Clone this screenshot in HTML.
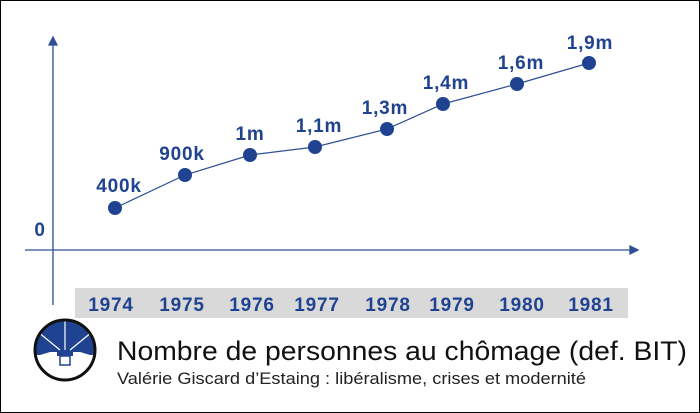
<!DOCTYPE html>
<html><head><style>
body{margin:0;background:#fff}
.w{position:relative;width:698px;height:411px;border:1px solid #000;overflow:hidden;font-family:"Liberation Sans",sans-serif}
</style></head><body><div class="w">
<svg width="700" height="413" style="position:absolute;left:-1px;top:-1px">
<rect x="75" y="288" width="553" height="30" fill="#d9d9d9"/>
<g stroke="#2e4f95" stroke-width="1.3" fill="#2e4f95">
<line x1="53" y1="305" x2="53" y2="42"/><polygon points="49,45 57,45 53,37"/>
<line x1="25" y1="250" x2="632" y2="250"/><polygon points="630,246 630,254 638,250"/>
</g>
<polyline points="115,208 185,175 250,155 315,147 387,129 443,104 517,84 589,63" fill="none" stroke="#2e4f95" stroke-width="1.2"/>
<g fill="#1f4390">
<circle cx="115" cy="208" r="7"/><circle cx="185" cy="175" r="7"/><circle cx="250" cy="155" r="7"/><circle cx="315" cy="147" r="7"/><circle cx="387" cy="129" r="7"/><circle cx="443" cy="104" r="7"/><circle cx="517" cy="84" r="7"/><circle cx="589" cy="63" r="7"/>
</g>
<g fill="#1f4390" font-weight="bold" font-size="19" text-anchor="middle" font-family="Liberation Sans,sans-serif" letter-spacing="0.8">
<text x="119" y="192">400k</text><text x="182" y="160">900k</text><text x="250" y="140">1m</text><text x="319" y="132">1,1m</text><text x="385" y="114">1,3m</text><text x="446" y="89">1,4m</text><text x="521" y="69">1,6m</text><text x="590" y="49">1,9m</text>
<text x="40" y="236">0</text>
<text x="111" y="311">1974</text><text x="182" y="311">1975</text><text x="252" y="311">1976</text><text x="317" y="311">1977</text><text x="388" y="311">1978</text><text x="452" y="311">1979</text><text x="522" y="311">1980</text><text x="591" y="311">1981</text>
</g>
<clipPath id="c"><circle cx="65" cy="350" r="30"/></clipPath>
<g clip-path="url(#c)">
<rect x="30" y="315" width="70" height="70" fill="#fff"/>
<rect x="30" y="315" width="70" height="40" fill="#1f4390"/>
<path d="M30,358 L50,352 L80,352 L100,358 L100,390 L30,390Z" fill="#fff"/>
<g stroke="#fff" stroke-width="1.2"><line x1="65" y1="350" x2="65" y2="318"/><line x1="60" y1="350" x2="38" y2="332"/><line x1="70" y1="350" x2="92" y2="332"/></g>
</g>
<circle cx="65" cy="350" r="30" fill="none" stroke="#111" stroke-width="3"/>
<rect x="60" y="356" width="10" height="9" fill="#fff" stroke="#1f4390" stroke-width="1.5"/>
<rect x="57" y="352" width="16" height="4" fill="#1f4390"/>
<text x="117" y="360" font-size="27" fill="#111" font-family="Liberation Sans,sans-serif" textLength="570" lengthAdjust="spacingAndGlyphs">Nombre de personnes au chômage (def. BIT)</text>
<text x="117" y="384" font-size="17" fill="#222" font-family="Liberation Sans,sans-serif" textLength="469" lengthAdjust="spacingAndGlyphs">Valérie Giscard d’Estaing : libéralisme, crises et modernité</text>
</svg></div></body></html>
